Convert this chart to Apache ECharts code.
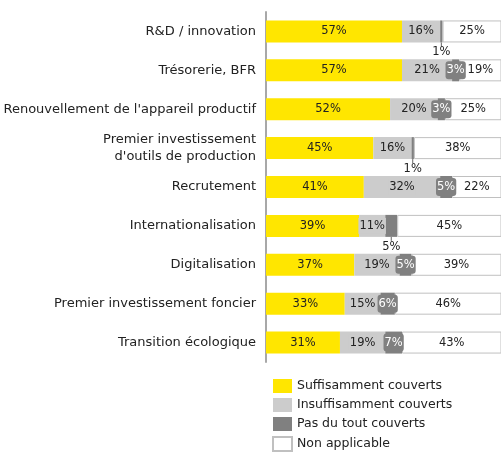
<!DOCTYPE html>
<html><head><meta charset="utf-8">
<script src="https://cdn.jsdelivr.net/npm/echarts@6/dist/echarts.min.js"></script>
<style>html,body{margin:0;padding:0;background:#fff}#c{width:501px;height:452px}</style>
</head><body><div id="c"></div>
<script>
var categories = ["R&D / innovation","Trésorerie, BFR","Renouvellement de l'appareil productif","Premier investissement\nd'outils de production","Recrutement","Internationalisation","Digitalisation","Premier investissement foncier","Transition écologique"];
var seriesNames = ["Suffisamment couverts","Insuffisamment couverts","Pas du tout couverts","Non applicable"];
var suffisamment = [57,57,52,45,41,39,37,33,31];
var insuffisamment = [16,21,20,16,32,11,19,15,19];
var pasDuTout = [1,3,3,1,5,5,5,6,7];
var nonApplicable = [25,19,25,38,22,45,39,46,43];
// labels of "Pas du tout" placed below bar with a leader tick
var belowLabelRows = [0,3,5];

var FONT = 'DejaVu Sans';
var colors = ['#FFE600','#CCCCCC','#808080','#FFFFFF'];

function mkData(vals, idx){
  return vals.map(function(v,i){
    if(idx===2 && belowLabelRows.indexOf(i)>=0){
      return {value:v, label:{position:'bottom', distance:5, color:'#222', backgroundColor:'transparent', padding:0},
              labelLine:{show:true, length2:0, lineStyle:{color:'#666', width:1}}};
    }
    return v;
  });
}
var allVals=[suffisamment,insuffisamment,pasDuTout,nonApplicable];
var series = allVals.map(function(vals,k){
  var lbl = {show:true, position:'inside', formatter:'{c}%', fontFamily:FONT, fontSize:11.5, color:'#222'};
  if(k===1){ lbl.backgroundColor='#CCCCCC'; lbl.padding=[2,1]; }
  if(k===2){ lbl.color='#fff'; lbl.backgroundColor='#808080'; lbl.padding=[3,1]; lbl.borderRadius=3; }
  var s = {
    name: seriesNames[k], type:'bar', stack:'t', barWidth:22,
    itemStyle:{color:colors[k], borderColor: k===3?'#C0C0C0':colors[k], borderWidth: k===3?1:0},
    label: lbl,
    emphasis:{disabled:true},
    data: mkData(vals,k)
  };
  if(k===2){
    s.labelLayout = function(p){
      if(belowLabelRows.indexOf(p.dataIndex)>=0){
        return {x: p.rect.x + p.rect.width/2, y: p.rect.y + p.rect.height + 10, align:'center', verticalAlign:'middle'};
      }
      return {};
    };
  }
  return s;
});

var chart = echarts.init(document.getElementById('c'), null, {renderer:'canvas'});
chart.setOption({
  animation:false,
  backgroundColor:'#fff',
  grid:{left:266, right:0, top:12, height:350},
  xAxis:{type:'value', min:0, max:98.5, show:false},
  yAxis:{type:'category', data:categories, inverse:true,
    axisLine:{show:true, lineStyle:{color:'#A8A8A8', width:2}},
    axisTick:{show:false},
    axisLabel:{margin:10, fontFamily:FONT, fontSize:13, color:'#222', align:'right', lineHeight:17}
  },
  legend:{orient:'vertical', left:272, top:379, height:80, padding:0, itemWidth:19, itemHeight:14, itemGap:5,
    textStyle:{fontFamily:FONT, fontSize:12.5, color:'#222'},
    data:seriesNames.map(function(n){return {name:n, icon:'rect'};})
  },
  series: series
});
</script></body></html>
